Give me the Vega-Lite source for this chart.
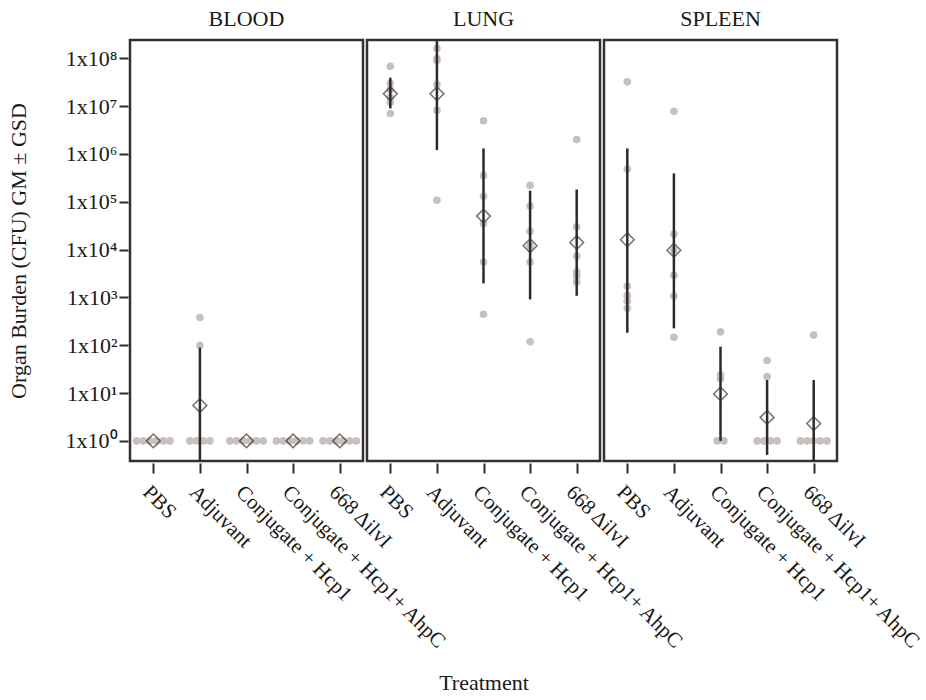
{
  "$schema": "https://vega.github.io/schema/vega-lite/v6.json",
  "padding": {"left": 7, "top": 8, "right": 4, "bottom": 5},
  "background": "white",
  "config": {
    "font": "Liberation Serif",
    "view": {"stroke": "#35302d", "strokeWidth": 2.5},
    "axis": {"labelFont": "Liberation Serif", "titleFont": "Liberation Serif", "labelColor": "#1a1a1a", "titleColor": "#1a1a1a", "tickColor": "#2f2a27", "tickWidth": 2, "domain": false, "grid": false},
    "header": {"labelFont": "Liberation Serif", "titleFont": "Liberation Serif"}
  },
  "data": {"values": [
    {"organ": "BLOOD", "treatment": "PBS", "cfu": 1},
    {"organ": "BLOOD", "treatment": "PBS", "cfu": 1},
    {"organ": "BLOOD", "treatment": "PBS", "cfu": 1},
    {"organ": "BLOOD", "treatment": "PBS", "cfu": 1},
    {"organ": "BLOOD", "treatment": "PBS", "cfu": 1},
    {"organ": "BLOOD", "treatment": "PBS", "cfu": 1},
    {"organ": "BLOOD", "treatment": "Adjuvant", "cfu": 380},
    {"organ": "BLOOD", "treatment": "Adjuvant", "cfu": 100},
    {"organ": "BLOOD", "treatment": "Adjuvant", "cfu": 1},
    {"organ": "BLOOD", "treatment": "Adjuvant", "cfu": 1},
    {"organ": "BLOOD", "treatment": "Adjuvant", "cfu": 1},
    {"organ": "BLOOD", "treatment": "Adjuvant", "cfu": 1},
    {"organ": "BLOOD", "treatment": "Conjugate + Hcp1", "cfu": 1},
    {"organ": "BLOOD", "treatment": "Conjugate + Hcp1", "cfu": 1},
    {"organ": "BLOOD", "treatment": "Conjugate + Hcp1", "cfu": 1},
    {"organ": "BLOOD", "treatment": "Conjugate + Hcp1", "cfu": 1},
    {"organ": "BLOOD", "treatment": "Conjugate + Hcp1", "cfu": 1},
    {"organ": "BLOOD", "treatment": "Conjugate + Hcp1", "cfu": 1},
    {"organ": "BLOOD", "treatment": "Conjugate + Hcp1+ AhpC", "cfu": 1},
    {"organ": "BLOOD", "treatment": "Conjugate + Hcp1+ AhpC", "cfu": 1},
    {"organ": "BLOOD", "treatment": "Conjugate + Hcp1+ AhpC", "cfu": 1},
    {"organ": "BLOOD", "treatment": "Conjugate + Hcp1+ AhpC", "cfu": 1},
    {"organ": "BLOOD", "treatment": "Conjugate + Hcp1+ AhpC", "cfu": 1},
    {"organ": "BLOOD", "treatment": "Conjugate + Hcp1+ AhpC", "cfu": 1},
    {"organ": "BLOOD", "treatment": "668 ΔilvI", "cfu": 1},
    {"organ": "BLOOD", "treatment": "668 ΔilvI", "cfu": 1},
    {"organ": "BLOOD", "treatment": "668 ΔilvI", "cfu": 1},
    {"organ": "BLOOD", "treatment": "668 ΔilvI", "cfu": 1},
    {"organ": "BLOOD", "treatment": "668 ΔilvI", "cfu": 1},
    {"organ": "BLOOD", "treatment": "668 ΔilvI", "cfu": 1},
    {"organ": "LUNG", "treatment": "PBS", "cfu": 68000000},
    {"organ": "LUNG", "treatment": "PBS", "cfu": 30000000},
    {"organ": "LUNG", "treatment": "PBS", "cfu": 22000000},
    {"organ": "LUNG", "treatment": "PBS", "cfu": 15000000},
    {"organ": "LUNG", "treatment": "PBS", "cfu": 12000000},
    {"organ": "LUNG", "treatment": "PBS", "cfu": 7000000},
    {"organ": "LUNG", "treatment": "Adjuvant", "cfu": 160000000},
    {"organ": "LUNG", "treatment": "Adjuvant", "cfu": 98000000},
    {"organ": "LUNG", "treatment": "Adjuvant", "cfu": 89000000},
    {"organ": "LUNG", "treatment": "Adjuvant", "cfu": 28000000},
    {"organ": "LUNG", "treatment": "Adjuvant", "cfu": 8100000},
    {"organ": "LUNG", "treatment": "Adjuvant", "cfu": 107000},
    {"organ": "LUNG", "treatment": "Conjugate + Hcp1", "cfu": 4900000},
    {"organ": "LUNG", "treatment": "Conjugate + Hcp1", "cfu": 350000},
    {"organ": "LUNG", "treatment": "Conjugate + Hcp1", "cfu": 130000},
    {"organ": "LUNG", "treatment": "Conjugate + Hcp1", "cfu": 35000},
    {"organ": "LUNG", "treatment": "Conjugate + Hcp1", "cfu": 5500},
    {"organ": "LUNG", "treatment": "Conjugate + Hcp1", "cfu": 445},
    {"organ": "LUNG", "treatment": "Conjugate + Hcp1+ AhpC", "cfu": 220000},
    {"organ": "LUNG", "treatment": "Conjugate + Hcp1+ AhpC", "cfu": 81000},
    {"organ": "LUNG", "treatment": "Conjugate + Hcp1+ AhpC", "cfu": 24000},
    {"organ": "LUNG", "treatment": "Conjugate + Hcp1+ AhpC", "cfu": 12000},
    {"organ": "LUNG", "treatment": "Conjugate + Hcp1+ AhpC", "cfu": 5500},
    {"organ": "LUNG", "treatment": "Conjugate + Hcp1+ AhpC", "cfu": 118},
    {"organ": "LUNG", "treatment": "668 ΔilvI", "cfu": 2000000},
    {"organ": "LUNG", "treatment": "668 ΔilvI", "cfu": 30000},
    {"organ": "LUNG", "treatment": "668 ΔilvI", "cfu": 7300},
    {"organ": "LUNG", "treatment": "668 ΔilvI", "cfu": 3400},
    {"organ": "LUNG", "treatment": "668 ΔilvI", "cfu": 2800},
    {"organ": "LUNG", "treatment": "668 ΔilvI", "cfu": 2100},
    {"organ": "SPLEEN", "treatment": "PBS", "cfu": 32000000},
    {"organ": "SPLEEN", "treatment": "PBS", "cfu": 480000},
    {"organ": "SPLEEN", "treatment": "PBS", "cfu": 1700},
    {"organ": "SPLEEN", "treatment": "PBS", "cfu": 1100},
    {"organ": "SPLEEN", "treatment": "PBS", "cfu": 830},
    {"organ": "SPLEEN", "treatment": "PBS", "cfu": 590},
    {"organ": "SPLEEN", "treatment": "Adjuvant", "cfu": 7800000},
    {"organ": "SPLEEN", "treatment": "Adjuvant", "cfu": 21000},
    {"organ": "SPLEEN", "treatment": "Adjuvant", "cfu": 9800},
    {"organ": "SPLEEN", "treatment": "Adjuvant", "cfu": 2900},
    {"organ": "SPLEEN", "treatment": "Adjuvant", "cfu": 1070},
    {"organ": "SPLEEN", "treatment": "Adjuvant", "cfu": 147},
    {"organ": "SPLEEN", "treatment": "Conjugate + Hcp1", "cfu": 190},
    {"organ": "SPLEEN", "treatment": "Conjugate + Hcp1", "cfu": 24},
    {"organ": "SPLEEN", "treatment": "Conjugate + Hcp1", "cfu": 20},
    {"organ": "SPLEEN", "treatment": "Conjugate + Hcp1", "cfu": 1},
    {"organ": "SPLEEN", "treatment": "Conjugate + Hcp1", "cfu": 1},
    {"organ": "SPLEEN", "treatment": "Conjugate + Hcp1+ AhpC", "cfu": 48},
    {"organ": "SPLEEN", "treatment": "Conjugate + Hcp1+ AhpC", "cfu": 22},
    {"organ": "SPLEEN", "treatment": "Conjugate + Hcp1+ AhpC", "cfu": 1},
    {"organ": "SPLEEN", "treatment": "Conjugate + Hcp1+ AhpC", "cfu": 1},
    {"organ": "SPLEEN", "treatment": "Conjugate + Hcp1+ AhpC", "cfu": 1},
    {"organ": "SPLEEN", "treatment": "Conjugate + Hcp1+ AhpC", "cfu": 1},
    {"organ": "SPLEEN", "treatment": "668 ΔilvI", "cfu": 163},
    {"organ": "SPLEEN", "treatment": "668 ΔilvI", "cfu": 1},
    {"organ": "SPLEEN", "treatment": "668 ΔilvI", "cfu": 1},
    {"organ": "SPLEEN", "treatment": "668 ΔilvI", "cfu": 1},
    {"organ": "SPLEEN", "treatment": "668 ΔilvI", "cfu": 1},
    {"organ": "SPLEEN", "treatment": "668 ΔilvI", "cfu": 1},
    {"organ": "BLOOD", "treatment": "PBS", "gm": 1, "lo": 1, "hi": 1},
    {"organ": "BLOOD", "treatment": "Adjuvant", "gm": 5.5, "lo": 0.34, "hi": 89},
    {"organ": "BLOOD", "treatment": "Conjugate + Hcp1", "gm": 1, "lo": 1, "hi": 1},
    {"organ": "BLOOD", "treatment": "Conjugate + Hcp1+ AhpC", "gm": 1, "lo": 1, "hi": 1},
    {"organ": "BLOOD", "treatment": "668 ΔilvI", "gm": 1, "lo": 1, "hi": 1},
    {"organ": "LUNG", "treatment": "PBS", "gm": 18000000, "lo": 8900000, "hi": 39000000},
    {"organ": "LUNG", "treatment": "Adjuvant", "gm": 18000000, "lo": 1200000, "hi": 270000000},
    {"organ": "LUNG", "treatment": "Conjugate + Hcp1", "gm": 50000, "lo": 1960, "hi": 1300000},
    {"organ": "LUNG", "treatment": "Conjugate + Hcp1+ AhpC", "gm": 12000, "lo": 905, "hi": 170000},
    {"organ": "LUNG", "treatment": "668 ΔilvI", "gm": 14000, "lo": 1080, "hi": 180000},
    {"organ": "SPLEEN", "treatment": "PBS", "gm": 16000, "lo": 182, "hi": 1300000},
    {"organ": "SPLEEN", "treatment": "Adjuvant", "gm": 9700, "lo": 225, "hi": 390000},
    {"organ": "SPLEEN", "treatment": "Conjugate + Hcp1", "gm": 9.6, "lo": 1, "hi": 93},
    {"organ": "SPLEEN", "treatment": "Conjugate + Hcp1+ AhpC", "gm": 3.1, "lo": 0.51, "hi": 18.7},
    {"organ": "SPLEEN", "treatment": "668 ΔilvI", "gm": 2.3, "lo": 0.28, "hi": 18.7}
  ]},
  "facet": {
    "column": {
      "field": "organ", "type": "nominal", "sort": ["BLOOD", "LUNG", "SPLEEN"],
      "title": "Treatment",
      "header": {"labelOrient": "top", "titleOrient": "bottom", "labelFontSize": 22, "labelColor": "#1a1a1a", "labelPadding": 7, "titleFontSize": 22, "titleFontWeight": "normal", "titleColor": "#1a1a1a", "titlePadding": 10}
    }
  },
  "spacing": 0,
  "spec": {
    "width": 233,
    "height": 421,
    "encoding": {
      "x": {
        "field": "treatment", "type": "nominal",
        "sort": ["PBS", "Adjuvant", "Conjugate + Hcp1", "Conjugate + Hcp1+ AhpC", "668 ΔilvI"],
        "scale": {"type": "point", "padding": 0.5},
        "axis": {"title": null, "labelAngle": 45, "labelAlign": "left", "labelBaseline": "top", "labelFontSize": 21, "labelPadding": 8, "labelLimit": 400, "tickSize": 10}
      }
    },
    "layer": [
      {
        "transform": [
          {"filter": "datum.cfu != null"},
          {"window": [{"op": "row_number", "as": "r"}, {"op": "count", "as": "n"}], "groupby": ["organ", "treatment", "cfu"], "frame": [null, null]},
          {"calculate": "datum.r - (datum.n + 1) / 2", "as": "off"}
        ],
        "mark": {"type": "circle", "size": 58, "color": "#c2b9b5", "opacity": 0.9, "clip": true},
        "encoding": {
          "xOffset": {"field": "off", "type": "quantitative", "scale": {"domain": [-3, 3], "range": [-20, 20]}},
          "y": {
            "field": "cfu", "type": "quantitative",
            "scale": {"type": "log", "domain": [0.38, 240000000], "nice": false},
            "axis": {"title": "Organ Burden (CFU) GM ± GSD", "titleFontSize": 22, "titleFontWeight": "normal", "titlePadding": 35, "labelFontSize": 22, "labelPadding": 2, "tickSize": 9, "values": [1, 10, 100, 1000, 10000, 100000, 1000000, 10000000, 100000000], "labelExpr": "'1x10' + ['⁰','¹','²','³','⁴','⁵','⁶','⁷','⁸'][round(log(datum.value) / LN10)]"}
          }
        }
      },
      {
        "transform": [{"filter": "datum.gm != null"}],
        "mark": {"type": "rule", "color": "#2f2a27", "strokeWidth": 2.5, "clip": true},
        "encoding": {
          "y": {"field": "lo", "type": "quantitative"},
          "y2": {"field": "hi"}
        }
      },
      {
        "transform": [{"filter": "datum.gm != null"}],
        "mark": {"type": "point", "shape": "diamond", "filled": false, "size": 190, "stroke": "#3a3431", "strokeWidth": 1.5, "clip": true},
        "encoding": {
          "y": {"field": "gm", "type": "quantitative"}
        }
      }
    ]
  }
}
